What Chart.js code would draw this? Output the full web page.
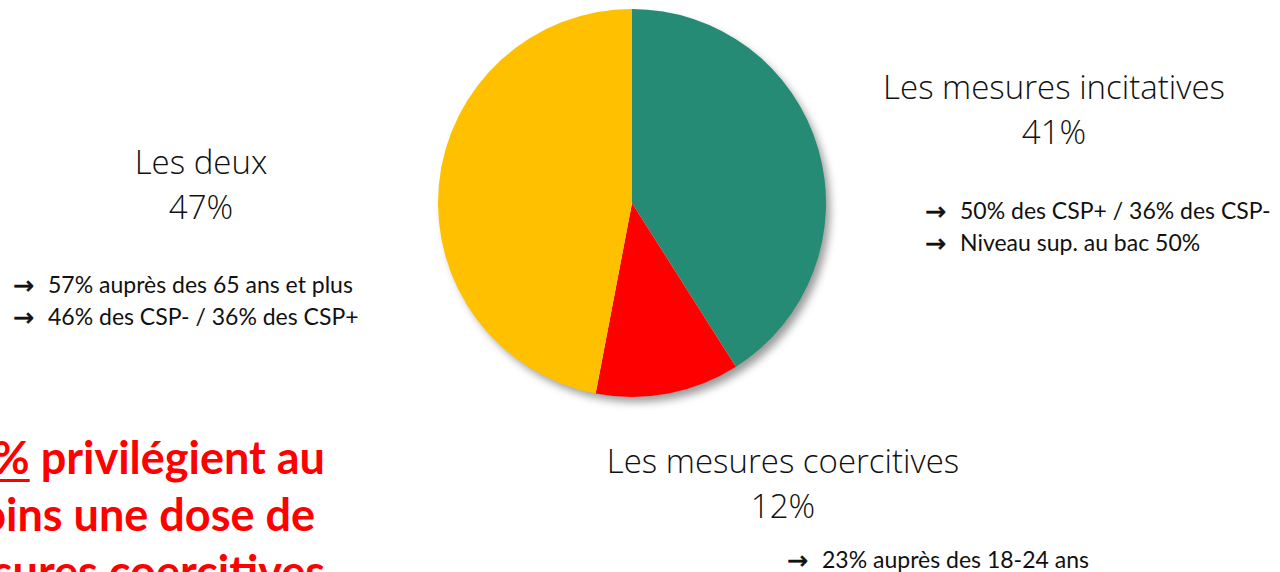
<!DOCTYPE html>
<html>
<head>
<meta charset="utf-8">
<script src="https://cdn.jsdelivr.net/npm/chart.js@4"></script>
<style>
  html, body { margin: 0; padding: 0; background: #fff; }
  body { width: 1280px; height: 572px; position: relative; overflow: hidden; }
  #pieWrap { position: absolute; left: 418px; top: -11px; width: 428px; height: 428px; }
  .title { position: absolute; transform: translate(-50%, -50%); text-align: center; white-space: nowrap;
           font-family: "Open Sans", sans-serif; font-weight: 300; font-size: 33px; color: #111; line-height: 45px; }
  .notes { position: absolute; font-family: "Lato", sans-serif; font-size: 23px; color: #111; line-height: 32px; white-space: nowrap; }
  .notes span.arr { display: inline-block; width: 35px; font-family: "DejaVu Sans", sans-serif; font-size: 25px;
                    line-height: 20px; vertical-align: -1px; -webkit-text-stroke: 0.6px #111; }
  #punch { position: absolute; right: 955px; top: 429px; text-align: right; white-space: nowrap;
           font-family: "Lato", sans-serif; font-weight: 700; font-size: 45px; line-height: 57px; color: #ff0000; }
  #punch div.l2 { margin-right: 10px; }
  #punch u { text-decoration-thickness: 3px; text-underline-offset: 5px; }
</style>
</head>
<body>
<div id="pieWrap"><canvas id="pieChart"></canvas></div>
<div id="labels"></div>
<div id="punch"><div><u>59%</u> privilégient au</div><div class="l2">moins une dose de</div><div>mesures coercitives</div></div>
<script>
// Sample data
const categories = ['Les mesures incitatives', 'Les mesures coercitives', 'Les deux'];
const shares = [41, 12, 47];
const sliceColors = ['#268B74', '#FF0000', '#FFC000'];
const notes = [
    ['50% des CSP+ / 36% des CSP-', 'Niveau sup. au bac 50%'],
    ['23% auprès des 18-24 ans'],
    ['57% auprès des 65 ans et plus', '46% des CSP- / 36% des CSP+']
];

// where each label block sits on the slide
const titlePos = [[1054, 109], [783, 483], [201, 184]];
const notePos = [[925, 194], [787, 543], [13, 268]];

// shadow under the whole pie
const pieShadow = {
    id: 'pieShadow',
    beforeDatasetsDraw(chart) {
        const arc = chart.getDatasetMeta(0).data[0];
        if (!arc) return;
        const ctx = chart.ctx;
        ctx.save();
        ctx.shadowColor = 'rgba(0,0,0,0.4)';
        ctx.shadowBlur = 8;
        ctx.shadowOffsetX = 5;
        ctx.shadowOffsetY = 6;
        ctx.fillStyle = '#ffffff';
        ctx.beginPath();
        ctx.arc(arc.x, arc.y, arc.outerRadius - 1, 0, Math.PI * 2);
        ctx.fill();
        ctx.restore();
    }
};

window.onload = function() {
    const labelBox = document.getElementById('labels');
    categories.forEach(function(cat, i) {
        const t = document.createElement('div');
        t.className = 'title';
        t.style.left = titlePos[i][0] + 'px';
        t.style.top = titlePos[i][1] + 'px';
        t.innerHTML = cat + '<br>' + shares[i] + '%';
        labelBox.appendChild(t);

        const n = document.createElement('div');
        n.className = 'notes';
        n.style.left = notePos[i][0] + 'px';
        n.style.top = notePos[i][1] + 'px';
        n.innerHTML = notes[i].map(function(s) { return '<span class="arr">\u2192</span>' + s; }).join('<br>');
        labelBox.appendChild(n);
    });

    new Chart(document.getElementById('pieChart'), {
        type: 'pie',
        data: {
            labels: categories,
            datasets: [{
                data: shares,
                backgroundColor: sliceColors,
                borderWidth: 0
            }]
        },
        options: {
            responsive: true,
            maintainAspectRatio: false,
            animation: false,
            layout: { padding: 20 },
            plugins: {
                legend: { display: false },
                tooltip: { enabled: false }
            }
        },
        plugins: [pieShadow]
    });
};
</script>
</body>
</html>
